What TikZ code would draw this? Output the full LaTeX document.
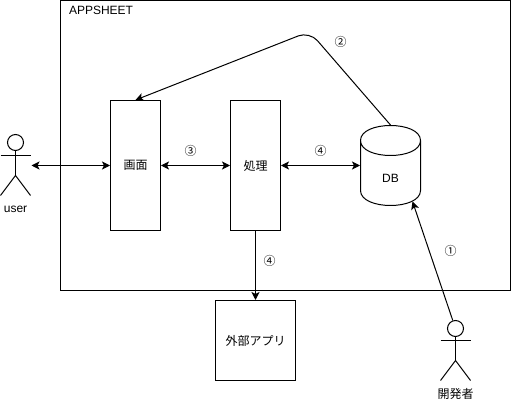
\documentclass[tikz,border=0pt]{standalone}
\usepackage{fontspec}
\setmainfont{Liberation Sans}
\newfontfamily\jpfont{Noto Sans CJK JP}
\usetikzlibrary{arrows.meta}

\begin{document}
\begin{tikzpicture}[
      x=0.75pt, y=-0.75pt, font=\fontsize{9}{11}\selectfont,
      >={Stealth[length=6pt,width=6pt,inset=1.5pt]}, line width=0.75pt,
      bx/.style={rectangle,draw,inner sep=0pt,minimum width=37.5pt,minimum height=97.5pt},
      hd/.style={circle,draw,inner sep=0pt,minimum size=12pt},
      tx/.style={inner sep=0pt,font=\fontsize{9}{11}\selectfont\jpfont},
      ar/.style={<->}]

    \useasboundingbox (-0.5,-0.5) rectangle (510.5,401.5);

    \node[rectangle,draw,inner sep=0pt,minimum width=337.5pt,minimum height=217.5pt] (app) at (285,145) {};
    \node[inner sep=0pt,anchor=west] (appname) at (68,10) {APPSHEET};

    \node[bx] (gamen) at (135,165) {\jpfont 画面};
    \node[bx] (shori) at (255,165) {\jpfont 処理};
    % DB
    \node[rectangle,inner sep=0pt,minimum width=45pt,minimum height=60pt] (db) at (390,165) {};
    \draw (360,140) .. controls (360,120) and (420,120) .. (420,140)
       .. controls (420,160) and (360,160) .. (360,140) -- (360,190)
       .. controls (360,210) and (420,210) .. (420,190) -- (420,140);
    \node[inner sep=0pt] (dbname) at (390,178) {DB};
    \node[rectangle,draw,inner sep=0pt,minimum size=60pt] (gaibu) at (255,340) {\jpfont 外部アプリ};

    % user
    \node[hd] (userhd) at (15,142) {};
    \coordinate (userbody) at (15,175);
    \draw (userhd) -- (userbody);
    \draw (0,155) -- (30,155);
    \draw (0,195) -- (userbody) -- (30,195);
    \node[inner sep=0pt] (username) at (15,209) {user};
    \coordinate (userhand) at (31,165);

    % developer
    \node[hd] (devhd) at (455,328) {};
    \coordinate (devbody) at (455,360);
    \draw (devhd) -- (devbody);
    \draw (440,340) -- (470,340);
    \draw (440,380) -- (devbody) -- (470,380);
    \node[tx] (devname) at (455,393) {開発者};

    \coordinate (dbfoot) at (412,201);
    \coordinate (bend) at (309,31);

    \draw[ar] (userhand) -- (gamen);
    \draw[ar] (gamen) -- (shori);
    \draw[ar] (shori) -- (db);
    \draw[->] (shori) -- (gaibu);
    \draw[->] (devhd) -- (dbfoot);
    \draw[->,rounded corners=9pt] (db.north) -- (bend) -- (gamen.north);

    \node[tx] (no2) at (340,41) {②};
    \node[tx] (no3) at (190,150) {③};
    \node[tx] (no4a) at (320,150) {④};
    \node[tx] (no4b) at (269,260) {④};
    \node[tx] (no1) at (450,250) {①};
  \end{tikzpicture}
\end{document}
